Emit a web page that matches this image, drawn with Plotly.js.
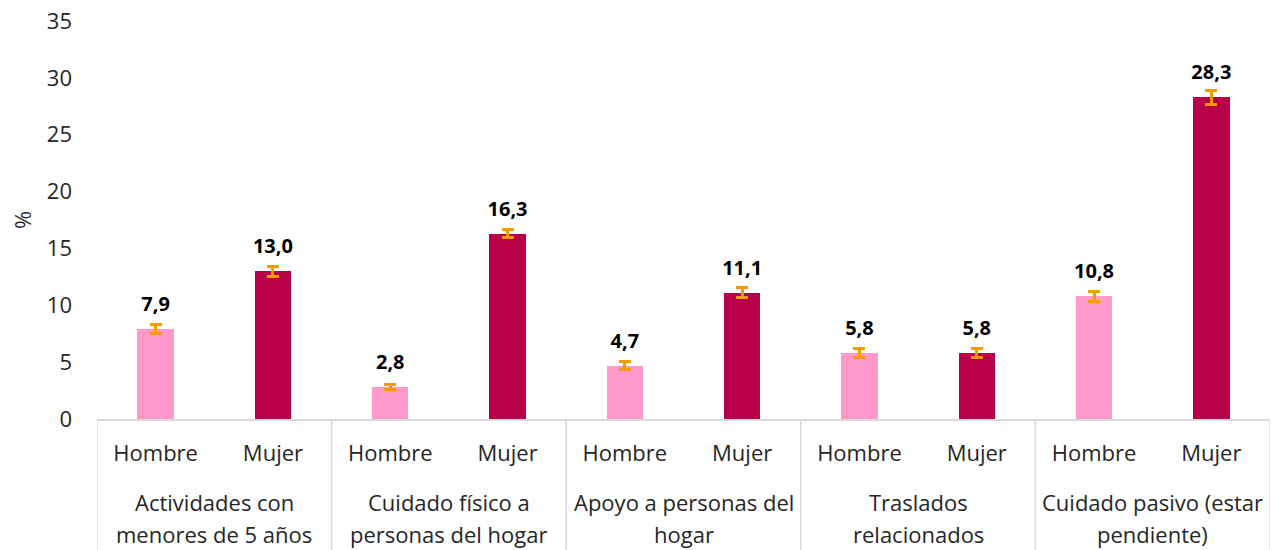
<!DOCTYPE html>
<html>
<head>
<meta charset="utf-8">
<script src="https://cdn.plot.ly/plotly-3.0.1.min.js"></script>
<style>html,body{margin:0;padding:0;background:#fff;}#chart{width:1277px;height:550px;}</style>
</head>
<body>
<div id="chart"></div>
<script>
const groups = [
  "Actividades con<br>menores de 5 años",
  "Cuidado físico a<br>personas del hogar",
  "Apoyo a personas del<br>hogar",
  "Traslados<br>relacionados",
  "Cuidado pasivo (estar<br>pendiente)"
];
const sexes = ["Hombre", "Mujer"];
const hombreValues = [7.9, 2.8, 4.7, 5.8, 10.8];
const mujerValues = [13.0, 16.3, 11.1, 5.8, 28.3];
const hombreErrors = [0.4, 0.2, 0.35, 0.4, 0.45];
const mujerErrors = [0.45, 0.35, 0.45, 0.4, 0.6];

const xPos = [], xText = [], yVals = [], errs = [], colors = [];
groups.forEach((g, i) => {
  xPos.push(2 * i, 2 * i + 1);
  xText.push(sexes[0], sexes[1]);
  yVals.push(hombreValues[i], mujerValues[i]);
  errs.push(hombreErrors[i], mujerErrors[i]);
  colors.push("#FF99CC", "#B8004A");
});

const font = "'Open Sans', 'Noto Sans', sans-serif";
const txtColor = "#262626";
const divColor = "#D9D9D9";

const bars = {
  type: "bar",
  x: xPos,
  y: yVals,
  width: 0.31,
  marker: {color: colors},
  error_y: {type: "data", array: errs, visible: true, color: "#F59B00", thickness: 3, width: 6},
  hoverinfo: "skip",
  showlegend: false
};
const labels = {
  type: "scatter",
  mode: "markers+text",
  x: xPos,
  y: yVals,
  text: yVals.map(v => v.toFixed(1).replace(".", ",")),
  textposition: "top center",
  textfont: {family: font, size: 20, color: "#000", weight: 700},
  marker: {size: 19, opacity: 0},
  hoverinfo: "skip",
  showlegend: false
};

// group labels (one annotation per line) and dividers
const annotations = [];
const shapes = [];
const plotH = 550 - 21 - 131;
groups.forEach((g, i) => {
  g.split("<br>").forEach((line, j) => {
    annotations.push({
      xref: "x", yref: "paper", x: 2 * i + 0.5, y: 0,
      yanchor: "middle", xanchor: "center", yshift: -83 - 32 * j,
      text: line, showarrow: false,
      font: {family: font, size: 22, color: txtColor}
    });
  });
});
for (let i = 0; i <= groups.length; i++) {
  shapes.push({
    type: "line", xref: "x", yref: "paper",
    x0: 2 * i - 0.5, x1: 2 * i - 0.5, y0: 0, y1: -131 / plotH,
    line: {color: divColor, width: 1.5}
  });
}

const layout = {
  width: 1277, height: 550,
  margin: {l: 97, r: 7, t: 21, b: 131},
  paper_bgcolor: "#fff", plot_bgcolor: "#fff",
  font: {family: font, size: 22, color: txtColor},
  bargap: 0,
  yaxis: {
    range: [0, 35], dtick: 5, showgrid: false, zeroline: false, showline: false,
    ticks: "", ticklabelstandoff: 24, automargin: false,
    tickfont: {size: 22, color: txtColor},
    title: {text: "%", font: {size: 22, color: txtColor}, standoff: 9}
  },
  xaxis: {
    range: [-0.5, 9.5], tickvals: xPos, ticktext: xText,
    showline: true, linecolor: divColor, linewidth: 2,
    ticks: "", showgrid: false, zeroline: false, automargin: false,
    ticklabelstandoff: 14,
    tickfont: {size: 22, color: txtColor}
  },
  annotations: annotations,
  shapes: shapes
};

Plotly.newPlot("chart", [bars, labels], layout, {displayModeBar: false, staticPlot: true});
</script>
</body>
</html>
